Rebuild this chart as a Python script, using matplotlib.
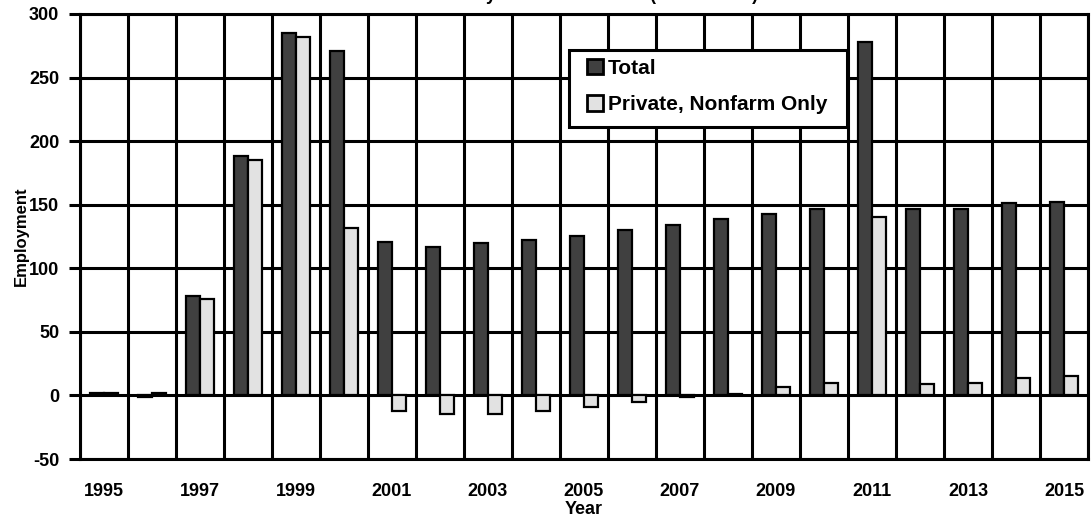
import numpy as np
import matplotlib
matplotlib.use("Agg")
import matplotlib.pyplot as plt
from matplotlib.patches import Rectangle
from matplotlib.ticker import FixedLocator

# Data (thousands)
years = list(range(1995, 2016))
total = [2, -1, 78, 188, 285, 271, 121, 117, 120, 122, 125, 130, 134, 139, 143, 147,
         278, 147, 147, 151, 152]
private_nonfarm = [2, 2, 76, 185, 282, 132, -12, -15, -15, -12, -9, -5, -1, 1.5, 7, 10,
                   140, 9, 10, 14, 15]
y_ticks = [-50, 0, 50, 100, 150, 200, 250, 300]

plt.rcParams["font.family"] = ["Liberation Sans", "DejaVu Sans"]
plt.rcParams["font.weight"] = "bold"
plt.rcParams["axes.unicode_minus"] = False

fig = plt.figure(figsize=(10.92, 5.19), dpi=100)
ax = fig.add_axes([80 / 1092, 1 - 459 / 519, 1008 / 1092, 445 / 519])

x = np.arange(len(years))
w = 0.3
ax.bar(x - w / 2, total, width=w, color="#404040", edgecolor="black",
       linewidth=1.6, label="Total", zorder=3)
ax.bar(x + w / 2, private_nonfarm, width=w, color="#e2e2e2", edgecolor="black",
       linewidth=1.6, label="Private, Nonfarm Only", zorder=3)

ax.set_xlim(-0.5, len(years) - 0.5)
ax.set_ylim(-50, 300)
ax.set_yticks(y_ticks)

# labels every other year at the bar groups, grid lines between groups
ax.set_xticks(x[::2])
ax.set_xticklabels([str(y) for y in years[::2]], fontsize=13, fontweight="bold")
ax.xaxis.set_minor_locator(FixedLocator(np.arange(-0.5, len(years), 1.0)))
ax.tick_params(axis="x", which="both", length=0, pad=17)
ax.tick_params(axis="y", length=8, width=2.2, labelsize=13, pad=7)
for lab in ax.get_yticklabels():
    lab.set_fontweight("bold")

ax.grid(True, axis="x", which="minor", color="black", linewidth=2.2, zorder=0)
ax.grid(True, axis="y", which="major", color="black", linewidth=2.2, zorder=0)
ax.grid(False, axis="x", which="major")
ax.set_axisbelow(True)
for s in ax.spines.values():
    s.set_linewidth(2.2)

ax.set_ylabel("Employment", fontsize=12, fontweight="bold", labelpad=0)
ax.set_xlabel("Year", fontsize=13, fontweight="bold", labelpad=1)

# legend box drawn by hand so the padding matches the source
box = Rectangle((0.485, 0.746), 0.276, 0.173, transform=ax.transAxes,
                facecolor="white", edgecolor="black", linewidth=2.2, zorder=4)
ax.add_patch(box)
leg = ax.legend(loc="upper left", bbox_to_anchor=(0.503, 0.900),
                prop={"weight": "bold", "size": 15}, frameon=False,
                handlelength=0.75, handleheight=0.75, handletextpad=0.25,
                labelspacing=0.85, borderpad=0, borderaxespad=0)
leg.set_zorder(5)
for h in leg.legend_handles:
    h.set_linewidth(2)

# title sits above the canvas, only its descenders show, as in the source image
fig.text(0.55, 1.0, "Yearly Net Job Creation (Thousands)", ha="center",
         va="baseline", fontsize=13, fontweight="bold")

fig.savefig("out.png", dpi=100)
